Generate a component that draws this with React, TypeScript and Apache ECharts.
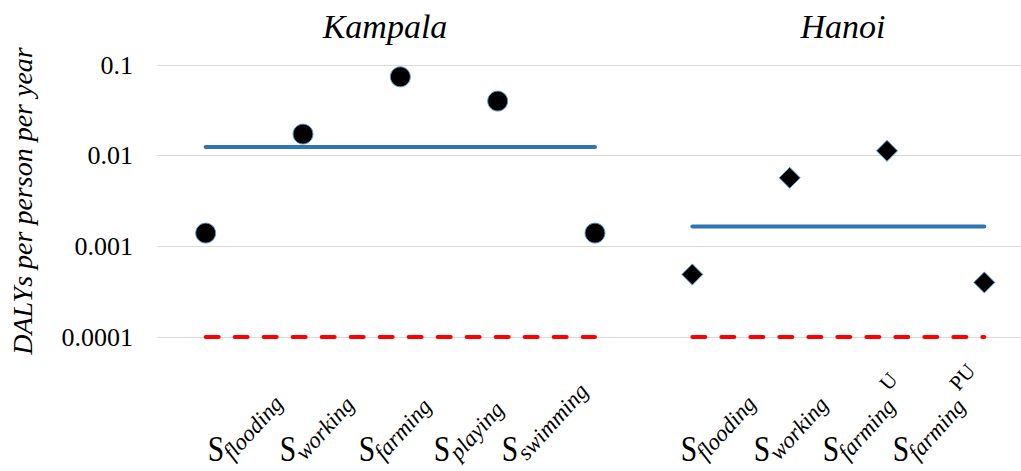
import React, { useEffect, useRef } from "react";
import * as echarts from "echarts";

// ---------------- data ----------------
const categories = [
  "Kampala flooding",
  "Kampala working",
  "Kampala farming",
  "Kampala playing",
  "Kampala swimming",
  "Hanoi flooding",
  "Hanoi working",
  "Hanoi farming U",
  "Hanoi farming PU",
];
const cityNames = ["Kampala", "Hanoi"];
const kampalaValues = [0.0014, 0.0173, 0.074, 0.04, 0.0014];
const hanoiValues = [0.00049, 0.0057, 0.0113, 0.0004];
const kampalaMean = 0.0125;
const hanoiMean = 0.00165;
const threshold = 0.0001;
const subLabels = ["flooding", "working", "farming", "playing", "swimming", "flooding", "working", "farming", "farming"];
const supLabels = ["", "", "", "", "", "", "", "U", "PU"];
const yTicks = [0.0001, 0.001, 0.01, 0.1];
const yAxisTitle = "DALYs per person per year";

// ---------------- layout (not data) ----------------
const FONT = "'Liberation Serif', 'Times New Roman', serif";
const labelSX = [216, 288, 367, 442, 510, 689, 762, 831, 901];
const titleX = [385, 843];
const SUB_ANGLE = (48 * Math.PI) / 180;
const SUB_SIZE = 23;
const CHART_W = 1034;

function measure(text: string, font: string): number {
  const c = document.createElement("canvas").getContext("2d");
  if (!c) return text.length * 10.5;
  c.font = font;
  return c.measureText(text).width;
}

export default function App() {
  const ref = useRef<HTMLDivElement>(null);

  useEffect(() => {
    if (!ref.current) return;
    const chart = echarts.init(ref.current, undefined, { renderer: "svg" });

    const nK = kampalaValues.length;
    const kampalaData = kampalaValues.map((v, i) => [i, v]);
    const hanoiData = hanoiValues.map((v, i) => [i + nK, v]);
    const kMeanData = categories.map((_, i) => (i < nK ? kampalaMean : "-"));
    const hMeanData = categories.map((_, i) => (i >= nK ? hanoiMean : "-"));
    const kThrData = categories.map((_, i) => (i < nK ? threshold : "-"));
    const hThrData = categories.map((_, i) => (i >= nK ? threshold : "-"));

    const blue = "#2f74b5";
    const meanLine = (data: any[]) => ({
      type: "line",
      data,
      showSymbol: false,
      symbol: "none",
      z: 2,
      lineStyle: { color: blue, width: 4, cap: "round" },
    });
    const thrLine = (data: any[]) => ({
      type: "line",
      data,
      showSymbol: false,
      symbol: "none",
      z: 2,
      lineStyle: { color: "#ff0000", width: 4, type: [13, 16], cap: "round" },
    });

    const graphics: any[] = [];
    cityNames.forEach((name, i) => {
      graphics.push({
        type: "text",
        x: titleX[i],
        y: 9,
        style: {
          text: name,
          fontFamily: FONT,
          fontStyle: "italic",
          fontSize: 34,
          fill: "#000",
          align: "center",
          verticalAlign: "top",
        },
      });
    });
    const subFont = `italic ${SUB_SIZE}px 'Liberation Serif'`;
    subLabels.forEach((sub, i) => {
      const sx = labelSX[i];
      graphics.push({
        type: "text",
        x: sx,
        y: 467,
        scaleX: 0.82,
        style: {
          text: "S",
          fontFamily: FONT,
          fontSize: 36,
          fill: "#000",
          align: "center",
          verticalAlign: "bottom",
        },
      });
      const children: any[] = [
        {
          type: "text",
          x: 0,
          y: 0,
          style: {
            text: sub,
            fontFamily: FONT,
            fontStyle: "italic",
            fontSize: SUB_SIZE,
            fill: "#000",
            align: "left",
            verticalAlign: "bottom",
          },
        },
      ];
      if (supLabels[i]) {
        const w = measure(sub, subFont);
        children.push({
          type: "text",
          x: w + 6,
          y: -17,
          style: {
            text: supLabels[i],
            fontFamily: FONT,
            fontSize: 21,
            fill: "#000",
            align: "left",
            verticalAlign: "bottom",
          },
        });
      }
      graphics.push({
        type: "group",
        x: sx + 20,
        y: 464,
        rotation: SUB_ANGLE,
        children,
      });
    });

    chart.setOption({
      animation: false,
      backgroundColor: "#fff",
      grid: { left: 155, right: 1, top: 65, bottom: 134, containLabel: false },
      xAxis: {
        type: "category",
        data: categories,
        boundaryGap: true,
        axisLine: { show: false },
        axisTick: { show: false },
        axisLabel: { show: false },
        splitLine: { show: false },
      },
      yAxis: {
        type: "log",
        logBase: 10,
        min: yTicks[0],
        max: yTicks[yTicks.length - 1],
        axisLine: { show: false },
        axisTick: { show: false },
        splitLine: { show: true, lineStyle: { color: "#d9d9d9", width: 1 } },
        axisLabel: {
          fontFamily: FONT,
          fontSize: 26,
          color: "#000",
          margin: 24,
          formatter: (v: number) => {
            const t = yTicks.find((t) => Math.abs(Math.log10(t) - Math.log10(v)) < 0.01);
            return t !== undefined ? String(t) : "";
          },
        },
        name: yAxisTitle,
        nameLocation: "middle",
        nameGap: 121,
        nameTextStyle: {
          fontFamily: FONT,
          fontStyle: "italic",
          fontSize: 28,
          color: "#000",
        },
      },
      graphic: graphics,
      series: [
        meanLine(kMeanData),
        meanLine(hMeanData),
        thrLine(kThrData),
        thrLine(hThrData),
        {
          type: "scatter",
          data: kampalaData,
          symbol: "circle",
          symbolSize: 20,
          z: 5,
          itemStyle: { color: "#000", opacity: 1, borderColor: "#5b9bd5", borderWidth: 1 },
        },
        {
          type: "scatter",
          data: hanoiData,
          symbol: "diamond",
          symbolSize: [21, 21],
          z: 5,
          itemStyle: { color: "#000", opacity: 1, borderColor: "#5b9bd5", borderWidth: 1 },
        },
      ],
    });

    return () => chart.dispose();
  }, []);

  return (
    <div
      style={{
        position: "fixed",
        left: 0,
        top: 0,
        width: 1021,
        height: 471,
        overflow: "hidden",
        background: "#fff",
      }}
    >
      <div ref={ref} style={{ width: CHART_W, height: 471 }} />
    </div>
  );
}
